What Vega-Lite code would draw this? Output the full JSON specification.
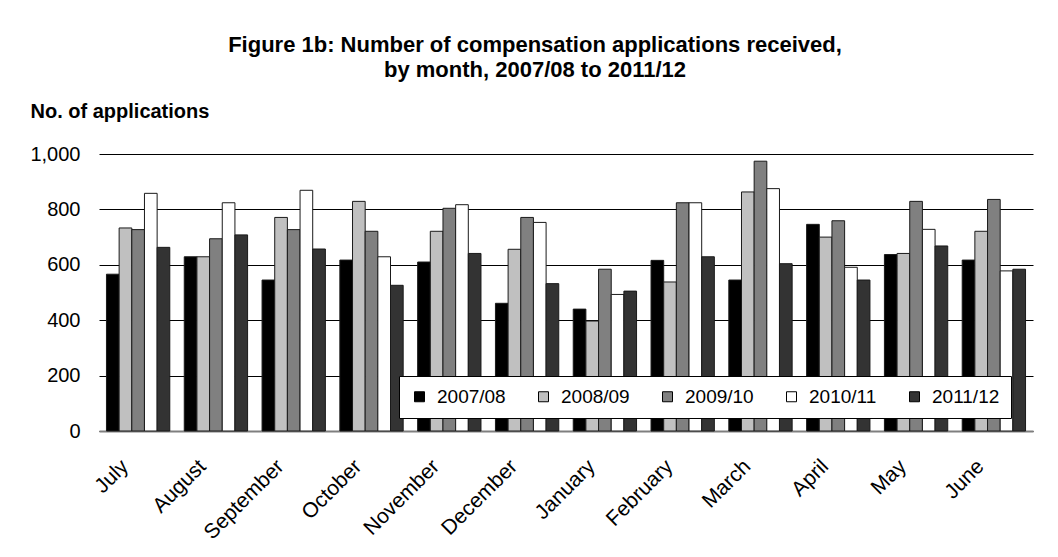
{
  "$schema": "https://vega.github.io/schema/vega-lite/v6.json",
  "width": 934,
  "height": 277,
  "autosize": {"type": "none"},
  "padding": {"left": 99, "top": 154, "right": 25, "bottom": 126},
  "background": "white",
  "config": {
    "font": "Liberation Sans",
    "view": {"stroke": null}
  },
  "title": {
    "text": ["Figure 1b: Number of compensation applications received,", "by month, 2007/08 to 2011/12"],
    "anchor": "middle",
    "frame": "group",
    "fontSize": 22,
    "fontWeight": "bold",
    "font": "Liberation Sans",
    "color": "black",
    "lineHeight": 25,
    "offset": 19,
    "dx": -31
  },
  "data": {
    "values": [
      {"month": "July", "year": "2007/08", "value": 566},
      {"month": "July", "year": "2008/09", "value": 733},
      {"month": "July", "year": "2009/10", "value": 727},
      {"month": "July", "year": "2010/11", "value": 858},
      {"month": "July", "year": "2011/12", "value": 663},
      {"month": "August", "year": "2007/08", "value": 629},
      {"month": "August", "year": "2008/09", "value": 629},
      {"month": "August", "year": "2009/10", "value": 694},
      {"month": "August", "year": "2010/11", "value": 824},
      {"month": "August", "year": "2011/12", "value": 708},
      {"month": "September", "year": "2007/08", "value": 545},
      {"month": "September", "year": "2008/09", "value": 771},
      {"month": "September", "year": "2009/10", "value": 727},
      {"month": "September", "year": "2010/11", "value": 869},
      {"month": "September", "year": "2011/12", "value": 657},
      {"month": "October", "year": "2007/08", "value": 617},
      {"month": "October", "year": "2008/09", "value": 829},
      {"month": "October", "year": "2009/10", "value": 721},
      {"month": "October", "year": "2010/11", "value": 629},
      {"month": "October", "year": "2011/12", "value": 526},
      {"month": "November", "year": "2007/08", "value": 610},
      {"month": "November", "year": "2008/09", "value": 721},
      {"month": "November", "year": "2009/10", "value": 804},
      {"month": "November", "year": "2010/11", "value": 817},
      {"month": "November", "year": "2011/12", "value": 641},
      {"month": "December", "year": "2007/08", "value": 461},
      {"month": "December", "year": "2008/09", "value": 656},
      {"month": "December", "year": "2009/10", "value": 771},
      {"month": "December", "year": "2010/11", "value": 753},
      {"month": "December", "year": "2011/12", "value": 532},
      {"month": "January", "year": "2007/08", "value": 440},
      {"month": "January", "year": "2008/09", "value": 397},
      {"month": "January", "year": "2009/10", "value": 584},
      {"month": "January", "year": "2010/11", "value": 493},
      {"month": "January", "year": "2011/12", "value": 505},
      {"month": "February", "year": "2007/08", "value": 616},
      {"month": "February", "year": "2008/09", "value": 538},
      {"month": "February", "year": "2009/10", "value": 824},
      {"month": "February", "year": "2010/11", "value": 824},
      {"month": "February", "year": "2011/12", "value": 629},
      {"month": "March", "year": "2007/08", "value": 545},
      {"month": "March", "year": "2008/09", "value": 863},
      {"month": "March", "year": "2009/10", "value": 974},
      {"month": "March", "year": "2010/11", "value": 875},
      {"month": "March", "year": "2011/12", "value": 604},
      {"month": "April", "year": "2007/08", "value": 746},
      {"month": "April", "year": "2008/09", "value": 700},
      {"month": "April", "year": "2009/10", "value": 759},
      {"month": "April", "year": "2010/11", "value": 591},
      {"month": "April", "year": "2011/12", "value": 545},
      {"month": "May", "year": "2007/08", "value": 637},
      {"month": "May", "year": "2008/09", "value": 641},
      {"month": "May", "year": "2009/10", "value": 829},
      {"month": "May", "year": "2010/11", "value": 728},
      {"month": "May", "year": "2011/12", "value": 668},
      {"month": "June", "year": "2007/08", "value": 617},
      {"month": "June", "year": "2008/09", "value": 721},
      {"month": "June", "year": "2009/10", "value": 836},
      {"month": "June", "year": "2010/11", "value": 578},
      {"month": "June", "year": "2011/12", "value": 584}
    ]
  },
  "mark": {"type": "bar", "stroke": "#1a1a1a", "strokeWidth": 1},
  "encoding": {
    "x": {
      "field": "month",
      "type": "nominal",
      "sort": ["July", "August", "September", "October", "November", "December", "January", "February", "March", "April", "May", "June"],
      "scale": {"paddingInner": 0.186, "paddingOuter": 0.096},
      "axis": {
        "title": null,
        "labelAngle": -45,
        "labelAlign": "right",
        "labelBaseline": "middle",
        "labelFontSize": 21,
        "labelColor": "black",
        "labelPadding": 32,
        "labelOffset": -13,
        "ticks": false,
        "domainColor": "#7f7f7f",
        "domainWidth": 2,
        "grid": false
      }
    },
    "xOffset": {
      "field": "year",
      "type": "nominal",
      "scale": {"paddingInner": 0, "paddingOuter": 0}
    },
    "y": {
      "field": "value",
      "type": "quantitative",
      "scale": {"domain": [0, 1000]},
      "axis": {
        "values": [0, 200, 400, 600, 800, 1000],
        "format": ",.0f",
        "title": "No. of applications",
        "titleAngle": 0,
        "titleAlign": "left",
        "titleBaseline": "alphabetic",
        "titleX": -69,
        "titleY": -37,
        "titleFontSize": 20,
        "titleFontWeight": "bold",
        "titleColor": "black",
        "labelFontSize": 20,
        "labelColor": "black",
        "labelPadding": 19,
        "ticks": false,
        "domain": false,
        "grid": true,
        "gridColor": "black",
        "gridWidth": 1
      }
    },
    "fill": {
      "field": "year",
      "type": "nominal",
      "scale": {
        "domain": ["2007/08", "2008/09", "2009/10", "2010/11", "2011/12"],
        "range": ["#000000", "#c0c0c0", "#808080", "#ffffff", "#333333"]
      },
      "legend": {
        "title": null,
        "orient": "none",
        "legendX": 300,
        "legendY": 222,
        "direction": "horizontal",
        "columns": 5,
        "fillColor": "white",
        "strokeColor": "black",
        "padding": 11,
        "symbolType": "square",
        "symbolSize": 100,
        "symbolStrokeColor": "black",
        "symbolStrokeWidth": 1,
        "labelFontSize": 19,
        "labelColor": "black",
        "labelOffset": 8,
        "columnPadding": 28
      }
    }
  }
}
